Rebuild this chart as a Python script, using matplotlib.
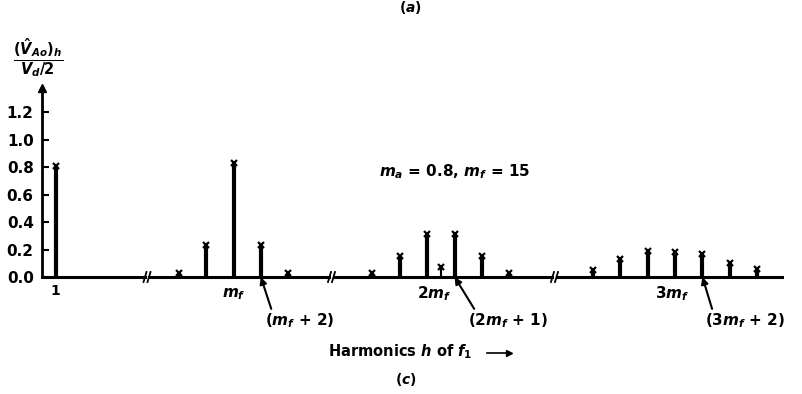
import numpy as np
import matplotlib.pyplot as plt

plt.rcParams['font.family'] = 'DejaVu Sans'
plt.rcParams['font.weight'] = 'bold'
plt.rcParams['mathtext.fontset'] = 'custom'
plt.rcParams['mathtext.rm'] = 'DejaVu Sans:bold'
plt.rcParams['mathtext.it'] = 'DejaVu Sans:italic:bold'
plt.rcParams['mathtext.bf'] = 'DejaVu Sans:bold'

mf = 15

# harmonic spectrum, m_a = 0.8, m_f = 15 (normalised to Vd/2)
h_fund = [1]
amp_fund = [0.81]
h_grp1 = [mf - 4, mf - 2, mf, mf + 2, mf + 4]
amp_grp1 = [0.03, 0.23, 0.83, 0.23, 0.03]
h_grp2 = [2*mf - 5, 2*mf - 3, 2*mf - 1, 2*mf + 1, 2*mf + 3, 2*mf + 5]
amp_grp2 = [0.03, 0.15, 0.31, 0.31, 0.15, 0.03]
h_small = [2*mf]
amp_small = [0.07]
h_grp3 = [3*mf - 6, 3*mf - 4, 3*mf - 2, 3*mf, 3*mf + 2, 3*mf + 4, 3*mf + 6]
amp_grp3 = [0.05, 0.13, 0.19, 0.18, 0.17, 0.10, 0.06]

yticks = [0.0, 0.2, 0.4, 0.6, 0.8, 1.0, 1.2]

W, H = 803, 394
fig = plt.figure(figsize=(W / 100, H / 100), dpi=100)


def fx(px):
    return px / W


def fy(py):
    return 1 - py / H


# broken x axis: four panels with the same harmonic scale
seg_px = [(42, 145), (149, 329), (334, 552), (557, 782)]
seg_lim = [(0, 7.5), (8.8, 22.0), (22.2, 38.1), (36.4, 52.8)]
seg_data = [(h_fund, amp_fund), (h_grp1, amp_grp1),
            (h_grp2 + h_small, amp_grp2 + amp_small), (h_grp3, amp_grp3)]

bottom, top = fy(277), fy(88)
axes = []
for (p0, p1), lim, (hs, amps) in zip(seg_px, seg_lim, seg_data):
    ax = fig.add_axes([fx(p0), bottom, fx(p1 - p0), top - bottom])
    ax.set_xlim(*lim)
    ax.set_ylim(0, 1.375)
    for s in ['top', 'right', 'left']:
        ax.spines[s].set_visible(False)
    ax.spines['bottom'].set_linewidth(2.2)
    ax.set_xticks([])
    ax.set_yticks([])
    ax.patch.set_alpha(0)
    for h, a in zip(hs, amps):
        lw = 1.5 if h == 2 * mf else 3.0
        ax.vlines(h, 0, a, color='black', lw=lw)
        ax.plot(h, a, marker='x', color='black', ms=4, mew=1.6, clip_on=False)
    axes.append(ax)

# y axis on the first panel
ax0 = axes[0]
ax0.spines['left'].set_visible(True)
ax0.spines['left'].set_linewidth(2.0)
ax0.set_yticks(yticks)
ax0.set_yticklabels([f'{v:.1f}' for v in yticks], fontsize=11, fontweight='bold')
ax0.tick_params(axis='y', direction='in', length=5, width=1.5, pad=6)
ax0.plot(0, 1, marker='^', color='black', ms=6, transform=ax0.transAxes, clip_on=False)

# break marks on the baseline
for p in [147, 331.5, 554.5]:
    for d in (-2, 2):
        fig.add_artist(plt.Line2D([fx(p + d - 1.5), fx(p + d + 1.5)], [fy(282), fy(272)],
                                  color='black', lw=1.3))

# harmonic labels under the axis
ax0.text(1, -0.05, '1', ha='center', va='top', fontsize=10)
axes[1].text(mf, -0.07, '$m_f$', ha='center', va='top', fontsize=11)
axes[2].text(2 * mf - 0.5, -0.05, '$2m_f$', ha='center', va='top', fontsize=11)
axes[3].text(3 * mf - 0.2, -0.05, '$3m_f$', ha='center', va='top', fontsize=11)

arrow = dict(arrowstyle='-|>', color='black', lw=1.5, mutation_scale=10,
             shrinkA=0, shrinkB=0, relpos=(0.1, 1.0))
axes[1].annotate('$(m_f$ + $2)$', xy=(mf + 2, 0), xytext=(300, H - 321),
                 textcoords='figure pixels', ha='center', va='center',
                 fontsize=11, arrowprops=arrow)
axes[2].annotate('$(2m_f$ + $1)$', xy=(2 * mf + 1, 0), xytext=(508, H - 321),
                 textcoords='figure pixels', ha='center', va='center',
                 fontsize=11, arrowprops=arrow)
axes[3].annotate('$(3m_f$ + $2)$', xy=(3 * mf + 2, 0), xytext=(745, H - 321),
                 textcoords='figure pixels', ha='center', va='center',
                 fontsize=11, arrowprops=arrow)

# y label as a fraction
fig.text(fx(38), fy(58), r'$\frac{(\hat{V}_{Ao})_h}{V_d/2}$', ha='center', va='center',
         fontsize=15)

fig.text(fx(455), fy(172), '$m_a$ = 0.8, $m_f$ = 15', ha='center', va='center',
         fontsize=11)

fig.text(fx(400), fy(352), 'Harmonics $h$ of $f_1$', ha='center', va='center', fontsize=10.5)
fig.add_artist(plt.Line2D([fx(487), fx(510)], [fy(353), fy(353)], color='black', lw=1.2))
fig.add_artist(plt.Line2D([fx(509)], [fy(353)], marker='>', color='black', ms=4, lw=0))
fig.text(fx(406), fy(380), '$(c)$', ha='center', va='center', fontsize=10)
fig.text(fx(410), fy(8), '$(a)$', ha='center', va='center', fontsize=10)

fig.savefig('out.png', dpi=100)
